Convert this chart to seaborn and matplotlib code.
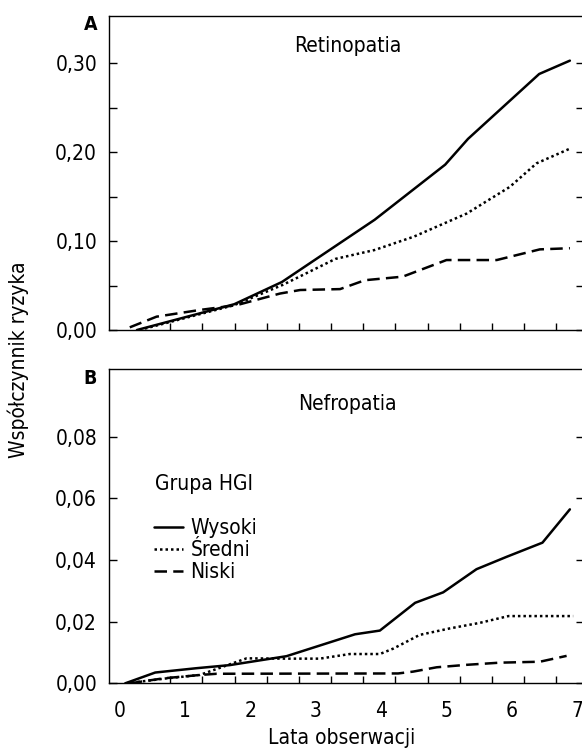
import numpy as np
import pandas as pd
import matplotlib
matplotlib.use("Agg")
import matplotlib.pyplot as plt
import seaborn as sns

# Retinopatia (panel A)
ret_wys_x = [0.26, 1.75, 2.48, 3.9, 4.98, 5.33, 6.42, 6.89]
ret_wys_y = [0.0, 0.029, 0.054, 0.124, 0.186, 0.215, 0.288, 0.303]
ret_sre_x = [0.3, 1.75, 2.5, 3.3, 3.9, 4.5, 5.31, 5.97, 6.38, 6.89]
ret_sre_y = [0.0, 0.028, 0.051, 0.080, 0.090, 0.105, 0.131, 0.161, 0.1875, 0.204]
ret_nis_x = [0.15, 0.56, 1.22, 1.79, 2.45, 2.76, 3.37, 3.75, 4.33, 5.0, 5.77, 6.43, 6.89]
ret_nis_y = [0.003, 0.015, 0.0225, 0.028, 0.041, 0.045, 0.046, 0.056, 0.060, 0.0787, 0.0787, 0.0907, 0.092]

# Nefropatia (panel B)
nef_wys_x = [0.08, 0.54, 1.17, 1.68, 2.55, 3.6, 3.98, 4.52, 4.95, 5.46, 5.92, 6.47, 6.89]
nef_wys_y = [0.0, 0.0035, 0.0049, 0.0059, 0.0088, 0.0159, 0.0171, 0.0261, 0.0295, 0.037, 0.041, 0.0456, 0.0564]
nef_sre_x = [0.1, 0.71, 1.22, 1.94, 2.55, 3.06, 3.52, 3.98, 4.19, 4.59, 5.05, 5.51, 5.95, 6.94]
nef_sre_y = [0.0, 0.0016, 0.0027, 0.0081, 0.008, 0.008, 0.0095, 0.0095, 0.0113, 0.0157, 0.0178, 0.0196, 0.0218, 0.0218]
nef_nis_x = [0.15, 0.66, 1.22, 1.48, 4.26, 4.49, 4.85, 5.31, 5.82, 6.43, 6.84]
nef_nis_y = [0.0, 0.0016, 0.0027, 0.0031, 0.0032, 0.0038, 0.0052, 0.006, 0.0067, 0.007, 0.0089]

groups = ["Wysoki", "Średni", "Niski"]
x_labels = ["0", "1", "2", "3", "4", "5", "6", "7"]


def long_df(xs, ys):
    parts = []
    for g, x, y in zip(groups, xs, ys):
        parts.append(pd.DataFrame({"lata": x, "ryzyko": y, "grupa": g}))
    return pd.concat(parts, ignore_index=True)


df_ret = long_df([ret_wys_x, ret_sre_x, ret_nis_x], [ret_wys_y, ret_sre_y, ret_nis_y])
df_nef = long_df([nef_wys_x, nef_sre_x, nef_nis_x], [nef_wys_y, nef_sre_y, nef_nis_y])

sns.set_style("ticks")
plt.rcParams["font.family"] = ["DejaVu Sans"]
plt.rcParams["font.stretch"] = "condensed"
plt.rcParams["lines.linewidth"] = 1.8
plt.rcParams["axes.linewidth"] = 1.0
for k in ["text.color", "axes.labelcolor", "xtick.color", "ytick.color", "axes.edgecolor"]:
    plt.rcParams[k] = "black"

palette = {g: "black" for g in groups}
dashes = {"Wysoki": "", "Średni": (1, 1.2), "Niski": (5, 2.5)}

fig = plt.figure(figsize=(5.82, 7.5), dpi=100)
ax_a = fig.add_axes([0.1873, 0.560, 0.816, 0.419])
ax_b = fig.add_axes([0.1873, 0.0889, 0.816, 0.4187])

FS = 15
xlim = (-0.168, 7.105)
minor_x = np.arange(0.77, 6.7, 0.4925)


def setup(ax, ylim, major, minor, labels_x):
    ax.set_xlim(*xlim)
    ax.set_ylim(*ylim)
    ax.set_xlabel("")
    ax.set_ylabel("")
    ax.set_yticks(major)
    ax.set_yticklabels([f"{v:.2f}".replace(".", ",") for v in major], fontsize=FS)
    ax.set_yticks(minor, minor=True)
    ax.tick_params(axis="y", which="both", direction="in", left=True, right=True,
                   length=5.8, width=1.0, pad=8.6)
    ax.set_xticks(range(8))
    if labels_x:
        ax.set_xticklabels(x_labels, fontsize=FS)
    else:
        ax.set_xticklabels([])
    ax.set_xticks(minor_x, minor=True)
    ax.tick_params(axis="x", which="major", length=0, pad=13)
    ax.tick_params(axis="x", which="minor", direction="in", length=5, width=1.0)


sns.lineplot(data=df_ret, x="lata", y="ryzyko", hue="grupa", style="grupa",
             palette=palette, dashes=dashes, estimator=None, legend=False, ax=ax_a)
setup(ax_a, (0, 0.3535), [0, 0.1, 0.2, 0.3], [0.05, 0.15, 0.25], False)

sns.lineplot(data=df_nef, x="lata", y="ryzyko", hue="grupa", style="grupa",
             palette=palette, dashes=dashes, estimator=None, legend=True, ax=ax_b)
setup(ax_b, (0, 0.1018), [0, 0.02, 0.04, 0.06, 0.08], [], True)

old = ax_b.get_legend()
handles = old.legend_handles
labels = [t.get_text() for t in old.get_texts()]
old.remove()
for h in handles:
    h.set_color("black")
    h.set_linewidth(1.8)
ax_b.legend(handles, labels, loc="upper left", bbox_to_anchor=(0.0947, 0.525),
            frameon=False, fontsize=FS, handlelength=1.4, handletextpad=0.35,
            labelspacing=0.08, borderpad=0, borderaxespad=0)

ax_b.text(0.097, 0.635, "Grupa HGI", transform=ax_b.transAxes, fontsize=FS,
          ha="left", va="center")

ax_a.text(0.502, 0.905, "Retinopatia", transform=ax_a.transAxes, fontsize=FS,
          ha="center", va="center")
ax_b.text(0.502, 0.89, "Nefropatia", transform=ax_b.transAxes, fontsize=FS,
          ha="center", va="center")

fig.text(91 / 582, 1 - 24 / 750, "A", fontsize=14, fontweight="bold", ha="center", va="center")
fig.text(90 / 582, 1 - 378 / 750, "B", fontsize=14, fontweight="bold", ha="center", va="center")

fig.text(18 / 582, 0.52, "Współczynnik ryzyka", rotation=90, fontsize=FS,
         ha="center", va="center")
fig.text(342 / 582, 1 - 738 / 750, "Lata obserwacji", fontsize=FS, ha="center", va="center")

fig.savefig("out.png", dpi=100)
